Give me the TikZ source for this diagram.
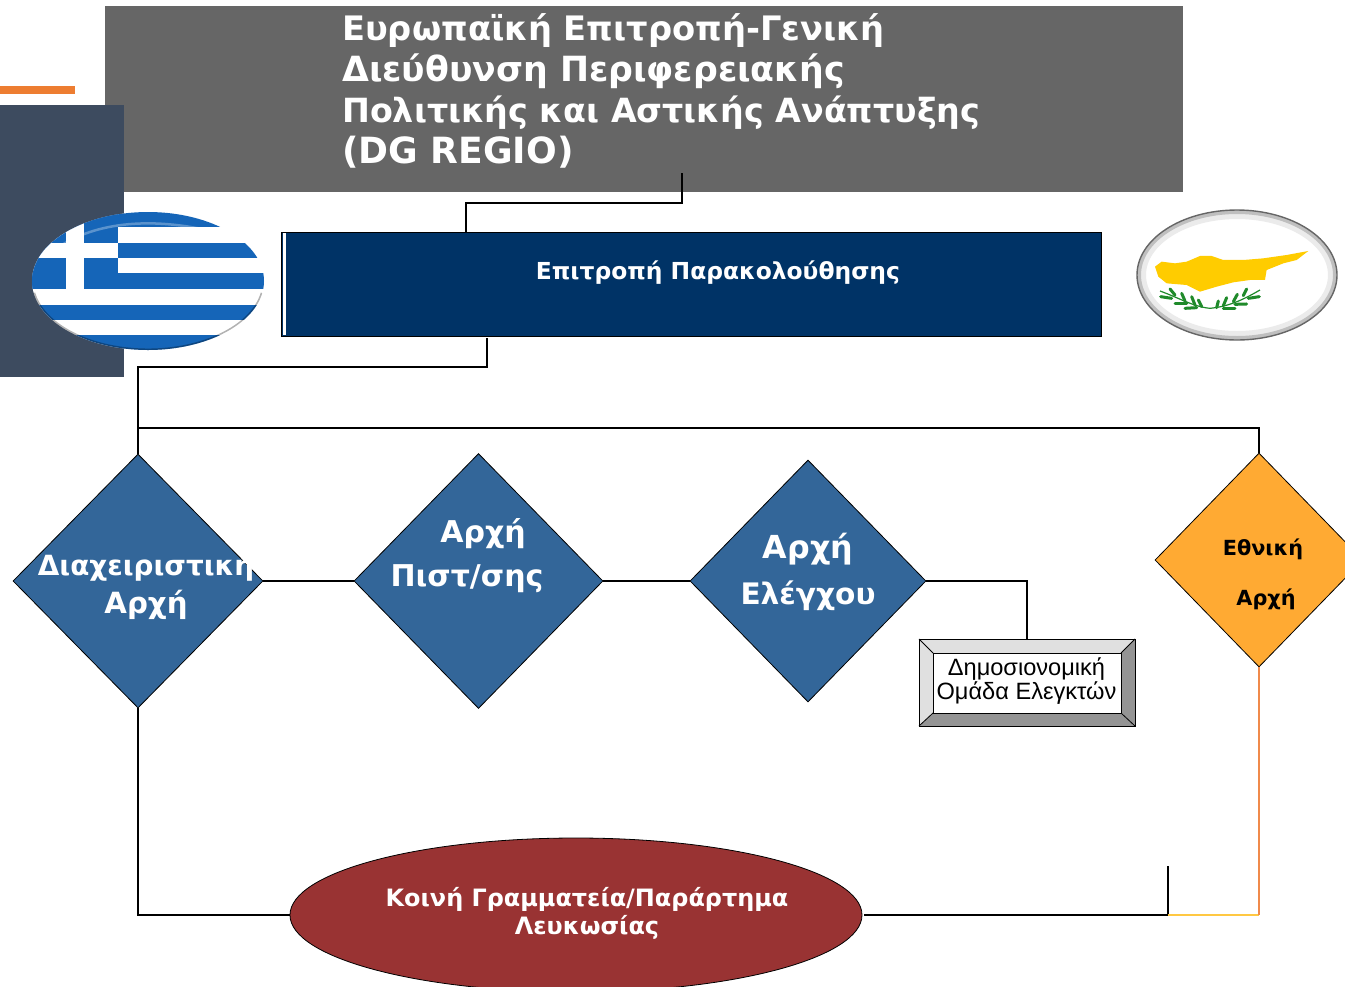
\documentclass[tikz,border=0pt]{standalone}
\usepackage{fontspec}
\setmainfont{DejaVu Sans}
\newfontfamily\arialf{Liberation Sans}
\usetikzlibrary{shapes.geometric}
\definecolor{titlegray}{HTML}{666666}
\definecolor{panelc}{HTML}{3D4B5F}
\definecolor{orangec}{HTML}{ED7D31}
\definecolor{navyc}{HTML}{003366}
\definecolor{steelc}{HTML}{336699}
\definecolor{amberc}{HTML}{FFAA33}
\definecolor{redc}{HTML}{993333}
\definecolor{flagblue}{HTML}{1565B8}
\definecolor{cyyellow}{HTML}{FFCC00}
\definecolor{cygreen}{HTML}{1F8A2A}
\definecolor{yelline}{HTML}{FFC843}
\definecolor{orline}{HTML}{F08A4B}
\tikzset{
  x=1pt,y=-1pt,
  conn/.style={draw=black,line width=1.3pt},
  dia/.style={diamond,draw=black,line width=0.8pt,inner sep=0pt,fill=steelc,shape aspect=1},
  wtxt/.style={text=white,font=\bfseries,align=center,inner sep=0pt},
  btxt/.style={text=black,font=\bfseries,align=center,inner sep=0pt},
}
\newcommand{\fs}[2]{\fontsize{#1}{#2}\selectfont}
\begin{document}
\begin{tikzpicture}
\useasboundingbox (0,0) rectangle (1345,986);
\clip (0,0) rectangle (1345,986);
\fill[white] (0,0) rectangle (1345,986);
% background panels
\node[fill=titlegray,minimum width=1078pt,minimum height=186pt,inner sep=0pt] (title) at (644,99) {};
\fill[orangec] (0,86) rectangle (75,94);
\fill[panelc] (0,105) rectangle (124,377);
\node[anchor=north west,text=white,font=\bfseries\fs{33.4}{41},align=left,inner sep=0pt] (titletext) at (342,13)
 {\fs{33.7}{41}Ευρωπαϊκή Επιτροπή-Γενική\\\fs{34.7}{41}Διεύθυνση Περιφερειακής\\\fs{33.3}{41}Πολιτικής και Αστικής Ανάπτυξης\\\fs{36.1}{41}(DG REGIO)};
% Greek flag
\begin{scope}
\clip (148,281) ellipse [x radius=116,y radius=69];
\fill[white] (30,210) rectangle (266,352);
\fill[flagblue] (30,210) rectangle (266,227);
\fill[flagblue] (30,243) rectangle (266,258);
\fill[flagblue] (30,273) rectangle (266,289);
\fill[flagblue] (30,305) rectangle (266,320);
\fill[flagblue] (30,335) rectangle (266,352);
\fill[flagblue] (30,210) rectangle (118,273);
\fill[flagblue] (30,273) rectangle (84,289);
\fill[white] (66,210) rectangle (84,289);
\fill[white] (30,243) rectangle (118,258);
\draw[white,opacity=.3,line width=2.5pt] (52,252) .. controls (90,222) and (150,216) .. (215,232);
\draw[black,opacity=.3,line width=3pt] (262.2,293) arc [start angle=10,end angle=170,x radius=116,y radius=69];
\end{scope}
% Cyprus flag
\fill[white] (1237,275) ellipse [x radius=100,y radius=65];
\draw[black!8,line width=8pt] (1237,275) ellipse [x radius=95,y radius=60];
\draw[black!25,line width=4pt] (1237,275) ellipse [x radius=98,y radius=63];
\draw[black!60,line width=1.4pt] (1237,275) ellipse [x radius=100,y radius=65];
\begin{scope}[shift={(1120,195)},x=0.3333pt,y=-0.3333pt]
\fill[cyyellow] (105,215) -- (125,200) -- (165,205) -- (200,200) -- (240,183) -- (275,183) -- (310,195) -- (370,195) -- (430,190) -- (500,180) -- (565,168) -- (530,195) -- (490,205) -- (440,225) -- (435,255) -- (390,255) -- (340,262) -- (290,275) -- (240,290) -- (200,270) -- (140,265) -- (115,245) -- cycle;
\draw[cygreen,line width=1.2pt] (120,288) .. controls (180,310) and (220,335) .. (270,340) .. controls (320,335) and (360,320) .. (420,285);
\foreach \a/\b/\c/\d in {150/282/165/300, 122/305/155/310, 185/295/195/318, 165/325/200/325, 215/305/225/330, 195/340/230/338, 235/315/245/335, 380/282/370/302, 418/305/385/310, 352/298/340/320, 380/327/345/328, 320/308/310/332, 345/340/310/340, 295/318/290/338}
  \draw[cygreen,line width=3pt,line cap=round] (\a,\b) -- (\c,\d);
\end{scope}
% monitoring committee
\node[draw=black,line width=0.8pt,fill=navyc,minimum width=820pt,minimum height=104pt,inner sep=0pt] (mon) at (691.7,284) {};
\fill[white] (282.5,233) rectangle (286,335);
\node[wtxt,font=\bfseries\fs{23.4}{28}] (montext) at (718,273) {Επιτροπή Παρακολούθησης};
% diamonds
\node[dia,minimum width=250pt,minimum height=254pt] (d1) at (138,581) {};
\node[dia,minimum width=249pt,minimum height=255pt] (d2) at (478.5,581) {};
\node[dia,minimum width=236pt,minimum height=242pt] (d3) at (808,581) {};
\node[dia,fill=amberc,minimum width=208pt,minimum height=214pt] (d4) at (1259,560) {};
\node[wtxt,font=\bfseries\fs{27.8}{38}] (d1t) at (146,586) {Διαχειριστική\\\fs{29.2}{38}Αρχή};
\node[wtxt,font=\bfseries\fs{30}{44}] (d2t) at (467,556) {\hspace*{32pt}Αρχή\\Πιστ/σης};
\node[wtxt,font=\bfseries\fs{29.6}{46}] (d3t) at (808,572) {\fs{31.7}{46}Αρχή\\\fs{29.6}{46}Ελέγχου};
\node[btxt,font=\bfseries\fs{20.8}{50}] (d4t) at (1263,574) {Εθνική\\\hspace*{6pt}Αρχή};
% auditors box
\node[fill=white,draw=black,line width=0.8pt,minimum width=216pt,minimum height=87pt,inner sep=0pt] (aud) at (1027,682.5) {};
\fill[black!12] (919,639) -- (1135,639) -- (1121,653) -- (933,653) -- cycle;
\fill[black!12] (919,639) -- (933,653) -- (933,713) -- (919,726) -- cycle;
\fill[black!42] (1135,639) -- (1121,653) -- (1121,713) -- (1135,726) -- cycle;
\fill[black!42] (919,726) -- (933,713) -- (1121,713) -- (1135,726) -- cycle;
\draw[black,line width=0.8pt] (919,639) rectangle (1135,726);
\draw[black,line width=0.8pt] (933,653) rectangle (1121,713);
\draw[black,line width=0.8pt] (919,639) -- (933,653) (1135,639) -- (1121,653) (919,726) -- (933,713) (1135,726) -- (1121,713);
\node[font=\arialf\fs{23.6}{24},align=center,inner sep=0pt] (audt) at (1026.5,681) {Δημοσιονομική\\Ομάδα Ελεγκτών};
% secretariat
\node[ellipse,draw=black,line width=0.8pt,fill=redc,minimum width=572pt,minimum height=154pt,inner sep=0pt] (sec) at (576,915) {};
\node[wtxt,font=\bfseries\fs{23.9}{28}] (sect) at (587,913) {Κοινή Γραμματεία/Παράρτημα\\Λευκωσίας};
% connectors
\coordinate (a1) at (682,173);
\coordinate (a2) at (487,338);
\coordinate (j1) at (138,428);
\coordinate (j2) at (1168,915);
\coordinate (j3) at (1168,866);
\coordinate (s1) at (864,915);
\draw[conn] (a1) -- (682,203) -- (466,203) -- (466,232);
\draw[conn] (a2) -- (487,367) -- (138,367) -- (d1.north);
\draw[conn] (j1) -- (1259,428) -- (d4.north);
\draw[conn] (d1.east) -- (d2.west);
\draw[conn] (d2.east) -- (d3.west);
\draw[conn] (d3.east) -- (1027,581) -- (aud.north);
\draw[conn] (d1.south) -- (138,915) -- (sec.west);
\draw[conn] (s1) -- (j2) -- (j3);
\draw[yelline,line width=1.3pt] (j2) -- (1259,915);
\draw[orline,line width=1.1pt] (d4.south) -- (1259,915);
\end{tikzpicture}
\end{document}
